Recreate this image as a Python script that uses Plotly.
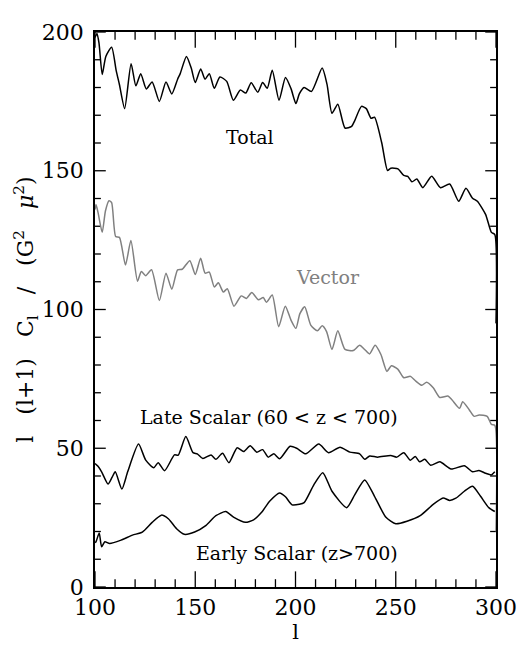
import plotly.graph_objects as go

total_l = [100, 101, 102, 103.6, 105.4, 108.3, 110.6, 112.2, 114.8, 118, 120.4, 122.8, 125.6, 128.5, 132.1, 135.4, 138.3, 141.2, 142.5, 145.6, 148, 150, 152.7, 154.9, 157, 159.5, 162.3, 165.7, 169, 172.5, 175.2, 177.9, 181.2, 183.6, 185.9, 188.4, 191.8, 195, 197.8, 200.2, 201.9, 204.3, 208, 213.3, 215.7, 218.2, 221.1, 224.7, 228, 229.5, 232.9, 235.3, 237.7, 239.4, 243, 245.9, 247.5, 251.1, 254, 256, 258.1, 260.5, 263.5, 267.9, 272.3, 276.9, 281.4, 285, 288.3, 290.7, 294.8, 297.7, 299.4, 300]
total_c = [198, 199.5, 196, 184.7, 191.2, 194.5, 186, 181, 172.4, 188.6, 180.6, 185, 179.5, 182, 175, 182, 177.7, 183, 185, 191.2, 187, 181.8, 186.7, 183, 185, 179.7, 183.8, 182.2, 175.4, 179.1, 178, 181.7, 178.3, 181.8, 179.7, 186.2, 175.4, 183.6, 179.5, 174.2, 177.7, 180, 178.6, 187, 181.2, 170.7, 174, 165.4, 166, 168, 173.2, 172.4, 168.9, 169.3, 160.1, 150.1, 150.9, 150.7, 148.3, 148, 146, 147, 143.9, 148, 143.9, 145.2, 139, 143.7, 140.1, 139, 134.3, 127.8, 127, 95]

vector_l = [100, 100.5, 101.5, 103.6, 105.2, 107, 108.3, 110.3, 112.2, 115.2, 117.9, 121.2, 123.1, 125.3, 128.2, 132.1, 135.4, 138.3, 141.2, 143.5, 147.3, 150, 152.7, 154.9, 157, 159.5, 161.5, 164, 166, 169.3, 172.9, 175.5, 178.2, 181.5, 183.9, 185.5, 188.4, 191.6, 194.9, 197.8, 200.2, 202.2, 204.6, 207.6, 210.9, 213.3, 215.5, 218.2, 221.1, 224.7, 228.8, 232, 234.5, 236.9, 239.7, 242.6, 245.6, 247.8, 251, 254, 257.3, 260, 263, 265.4, 268.7, 272, 276, 278, 281.8, 283.4, 286.7, 289.1, 291.6, 295.6, 297.7, 299.4, 300]
vector_c = [136, 137.8, 135, 127.8, 135.5, 139.2, 138.5, 126.3, 126, 116, 124.9, 110.2, 113.7, 112.2, 114.3, 103.2, 113.1, 107.3, 114.3, 114.5, 117.6, 112.6, 118.5, 113.1, 113.5, 108.1, 109.6, 106.3, 107.5, 101.2, 104.9, 104, 106.1, 103.5, 104.3, 102.6, 105.2, 93.8, 101.2, 96.1, 93.2, 98.5, 101, 94.4, 92.3, 94.1, 92, 85.6, 92.3, 85.6, 85.2, 87.1, 85.6, 84, 87.1, 83.8, 77.7, 79.7, 78.5, 75.4, 75.9, 74.2, 72.7, 73.8, 71.8, 68.3, 68.8, 67.5, 64.4, 66.8, 63.8, 61.5, 62, 61.5, 58.6, 58.3, 20]

late_l = [100, 101.5, 103.3, 106.5, 108.5, 110.1, 113.4, 116.3, 121.7, 125.3, 129.3, 131.5, 134.7, 139.6, 141.5, 145.3, 148.9, 151, 153.8, 157.9, 160.3, 163.6, 166.8, 170.9, 174.1, 177.4, 180.7, 183.6, 186.4, 189.2, 192.1, 197.3, 200.6, 205.1, 211.6, 216.5, 222.2, 227.1, 232, 234.5, 237, 241, 247.5, 250.5, 254, 257.3, 259.7, 261.9, 264.5, 267.4, 272, 277.6, 284.2, 288.3, 291.5, 294.8, 297.7, 299.4]
late_c = [44.5, 43.5, 41.5, 37.1, 39.5, 41.5, 35.3, 41.5, 51.5, 45.7, 43, 44.8, 41.9, 47.6, 47.5, 54.2, 48.4, 48, 46.3, 47.6, 46, 48.2, 44.8, 50.2, 48.8, 50.9, 48.6, 49.5, 46.8, 48, 46.2, 50.7, 50, 48, 51.5, 48.4, 50.4, 48.6, 48, 46, 47.2, 46.8, 47.4, 46.8, 48.4, 45.7, 47, 45.1, 46, 43.9, 45.1, 42.5, 43.7, 41.5, 42, 41, 40.4, 41.5]

early_l = [100, 100.5, 102.1, 103.3, 104.9, 107.3, 113, 118.7, 123.6, 128.5, 133.1, 136.7, 140.7, 144.5, 149.7, 155.4, 160.3, 165.2, 169.3, 175, 179.1, 183.1, 187.2, 192.1, 195, 198.3, 201.9, 204.3, 209.2, 213.6, 218.2, 225.5, 229.6, 234.5, 239.4, 245.1, 250, 255.6, 262.2, 268.7, 273.6, 276.9, 280, 284.2, 288.3, 292.3, 296.4, 299.4]
early_c = [16, 16.3, 19.5, 14.5, 16.3, 15.7, 16.9, 18.7, 19.8, 23.3, 25.9, 24.5, 21, 19, 19.8, 22.2, 25.7, 27.2, 25.1, 23.3, 24.2, 26.9, 31, 33.9, 32.5, 29.6, 29.8, 30.4, 36.9, 41.2, 34.5, 28.6, 33.3, 38.6, 32.7, 25.1, 22.8, 23.7, 25.7, 29.8, 32.1, 31.2, 32, 34.5, 36.3, 32.7, 28.6, 27.2]

labels = ["Total", "Vector", "Late Scalar (60 < z < 700)", "Early Scalar (z>700)"]
label_l = [177.5, 216, 187, 200.5]
label_c = [162, 111.6, 61.3, 12.3]
label_colors = ["black", "#808080", "black", "black"]

x_range = [100, 300]
y_range = [0, 200]
x_major = [100, 150, 200, 250, 300]
y_major = [0, 50, 100, 150, 200]
x_minor = [v for v in range(100, 301, 10) if v not in x_major]
y_minor = [v for v in range(0, 201, 10) if v not in y_major]

FONT = "DejaVu Serif"
SP = "\u00a0"

W, H = 521, 639
ML, MR, MT, MB = 87, 25, 12, 59
plot_w = W - ML - MR
plot_h = H - MT - MB
dx_per_px = (x_range[1] - x_range[0]) / plot_w
dy_per_px = (y_range[1] - y_range[0]) / plot_h

fig = go.Figure()

# inside tick marks on all four sides, as one segmented line trace
tx, ty = [], []
for v, ln in [(v, 16) for v in x_major] + [(v, 8) for v in x_minor]:
    d = ln * dy_per_px
    tx += [v, v, None, v, v, None]
    ty += [y_range[0], y_range[0] + d, None, y_range[1] - d, y_range[1], None]
for v, ln in [(v, 11) for v in y_major] + [(v, 6) for v in y_minor]:
    d = ln * dx_per_px
    tx += [x_range[0], x_range[0] + d, None, x_range[1] - d, x_range[1], None]
    ty += [v, v, None, v, v, None]
fig.add_trace(go.Scatter(x=tx, y=ty, mode="lines", line=dict(color="black", width=1.3),
                         connectgaps=False, showlegend=False, hoverinfo="skip",
                         cliponaxis=False))

series = [(total_l, total_c, "black"), (vector_l, vector_c, "#808080"),
          (late_l, late_c, "black"), (early_l, early_c, "black")]
for xs, ys, col in series:
    fig.add_trace(go.Scatter(x=xs, y=ys, mode="lines",
                             line=dict(color=col, width=1.5, shape="spline", smoothing=0.6),
                             showlegend=False, hoverinfo="skip"))

for t, lx, ly, c in zip(labels, label_l, label_c, label_colors):
    fig.add_annotation(x=lx, y=ly, text=t, showarrow=False,
                       font=dict(family=FONT, size=19, color=c))

axis_common = dict(showline=True, linecolor="black", linewidth=1.5, mirror=True,
                   ticks="", showgrid=False, zeroline=False,
                   tickfont=dict(family=FONT, size=22, color="black"))

ytitle = ("l" + SP * 3 + "(l+1)" + SP * 3 + "C<sub>l</sub>" + SP * 3 + "/" + SP * 3 +
          "(G<sup>2</sup>" + SP * 3 + "<i>μ</i><sup>2</sup>)")

fig.update_xaxes(range=x_range, tickvals=x_major,
                 title=dict(text="l", font=dict(family=FONT, size=21, color="black"), standoff=0),
                 **axis_common)
fig.update_yaxes(range=y_range, tickvals=y_major, ticklabelstandoff=5,
                 title=dict(text=ytitle, font=dict(family=FONT, size=22, color="black"), standoff=0),
                 **axis_common)

fig.update_layout(template="simple_white", width=W, height=H,
                  margin=dict(l=ML, r=MR, t=MT, b=MB),
                  plot_bgcolor="white", paper_bgcolor="white")

fig.write_html("out.html")
